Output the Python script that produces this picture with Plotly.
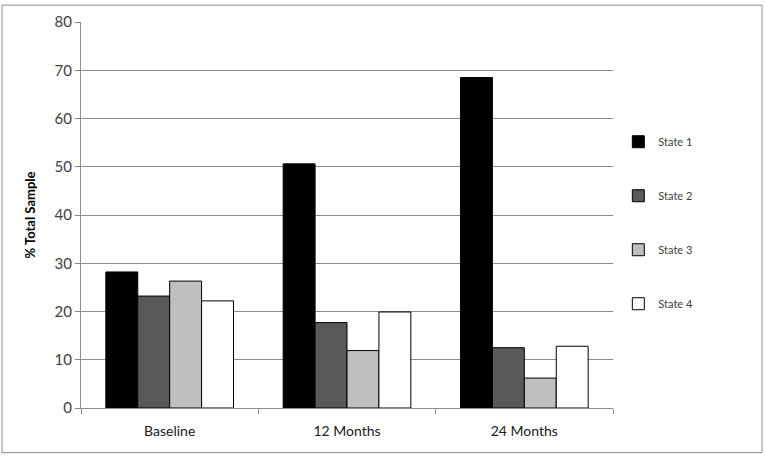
import plotly.graph_objects as go

categories = ["Baseline", "12 Months", "24 Months"]
series_names = ["State 1", "State 2", "State 3", "State 4"]
state1 = [28.2, 50.6, 68.5]
state2 = [23.2, 17.7, 12.5]
state3 = [26.3, 11.9, 6.2]
state4 = [22.2, 19.9, 12.8]
series_values = [state1, state2, state3, state4]
colors = ["#000000", "#595959", "#bfbfbf", "#ffffff"]
y_ticks = [0, 10, 20, 30, 40, 50, 60, 70, 80]

fig = go.Figure()
for i, (name, vals) in enumerate(zip(series_names, series_values)):
    fig.add_trace(go.Bar(
        x=categories, y=vals, name=name,
        marker=dict(color=colors[i], line=dict(color="#000000", width=1)),
        legendgroup=name,
    ))

W, H = 765, 459
L, R, T, B = 81, 152, 19, 51
pw = W - L - R
ph = H - T - B

fig.update_layout(
    width=W, height=H,
    margin=dict(l=L, r=R, t=T, b=B),
    paper_bgcolor="white", plot_bgcolor="white",
    barmode="group", bargap=0.28, bargroupgap=0,
    font=dict(family="Lato, Open Sans, sans-serif", color="#404040"),
    showlegend=True,
    legend=dict(
        x=1.01, xanchor="left", y=0.48, yanchor="middle",
        font=dict(size=11, color="#404040"),
        tracegroupgap=35, itemwidth=30,
        bgcolor="rgba(0,0,0,0)",
    ),
    yaxis=dict(
        range=[0, 80], tickvals=y_ticks, showgrid=True, gridcolor="#8c8c8c",
        gridwidth=1, showline=True, linecolor="#8c8c8c", linewidth=1,
        ticks="outside", ticklen=5, tickcolor="#8c8c8c",
        tickfont=dict(size=15, color="#404040"),
        title=dict(text="<b>% Total Sample</b>", font=dict(size=13, color="#000000"), standoff=16),
        zeroline=False, fixedrange=True,
    ),
    xaxis=dict(
        showline=True, linecolor="#8c8c8c", linewidth=1,
        ticks="outside", tickson="boundaries", ticklen=5, tickcolor="#8c8c8c",
        tickfont=dict(size=14, color="#202020"),
        ticklabelstandoff=10,
        fixedrange=True,
    ),
    shapes=[dict(
        type="rect", xref="paper", yref="paper",
        x0=(2 - L) / pw, x1=(762 - L) / pw,
        y0=((H - B) - 453) / ph, y1=((H - B) - 2) / ph,
        line=dict(color="#8c8c8c", width=1), fillcolor="rgba(0,0,0,0)", layer="below",
    )],
)

fig.write_html(
    "out.html",
    config={"displayModeBar": False, "staticPlot": False},
    post_script="document.body.style.margin='0';document.body.style.overflow='hidden';",
)
